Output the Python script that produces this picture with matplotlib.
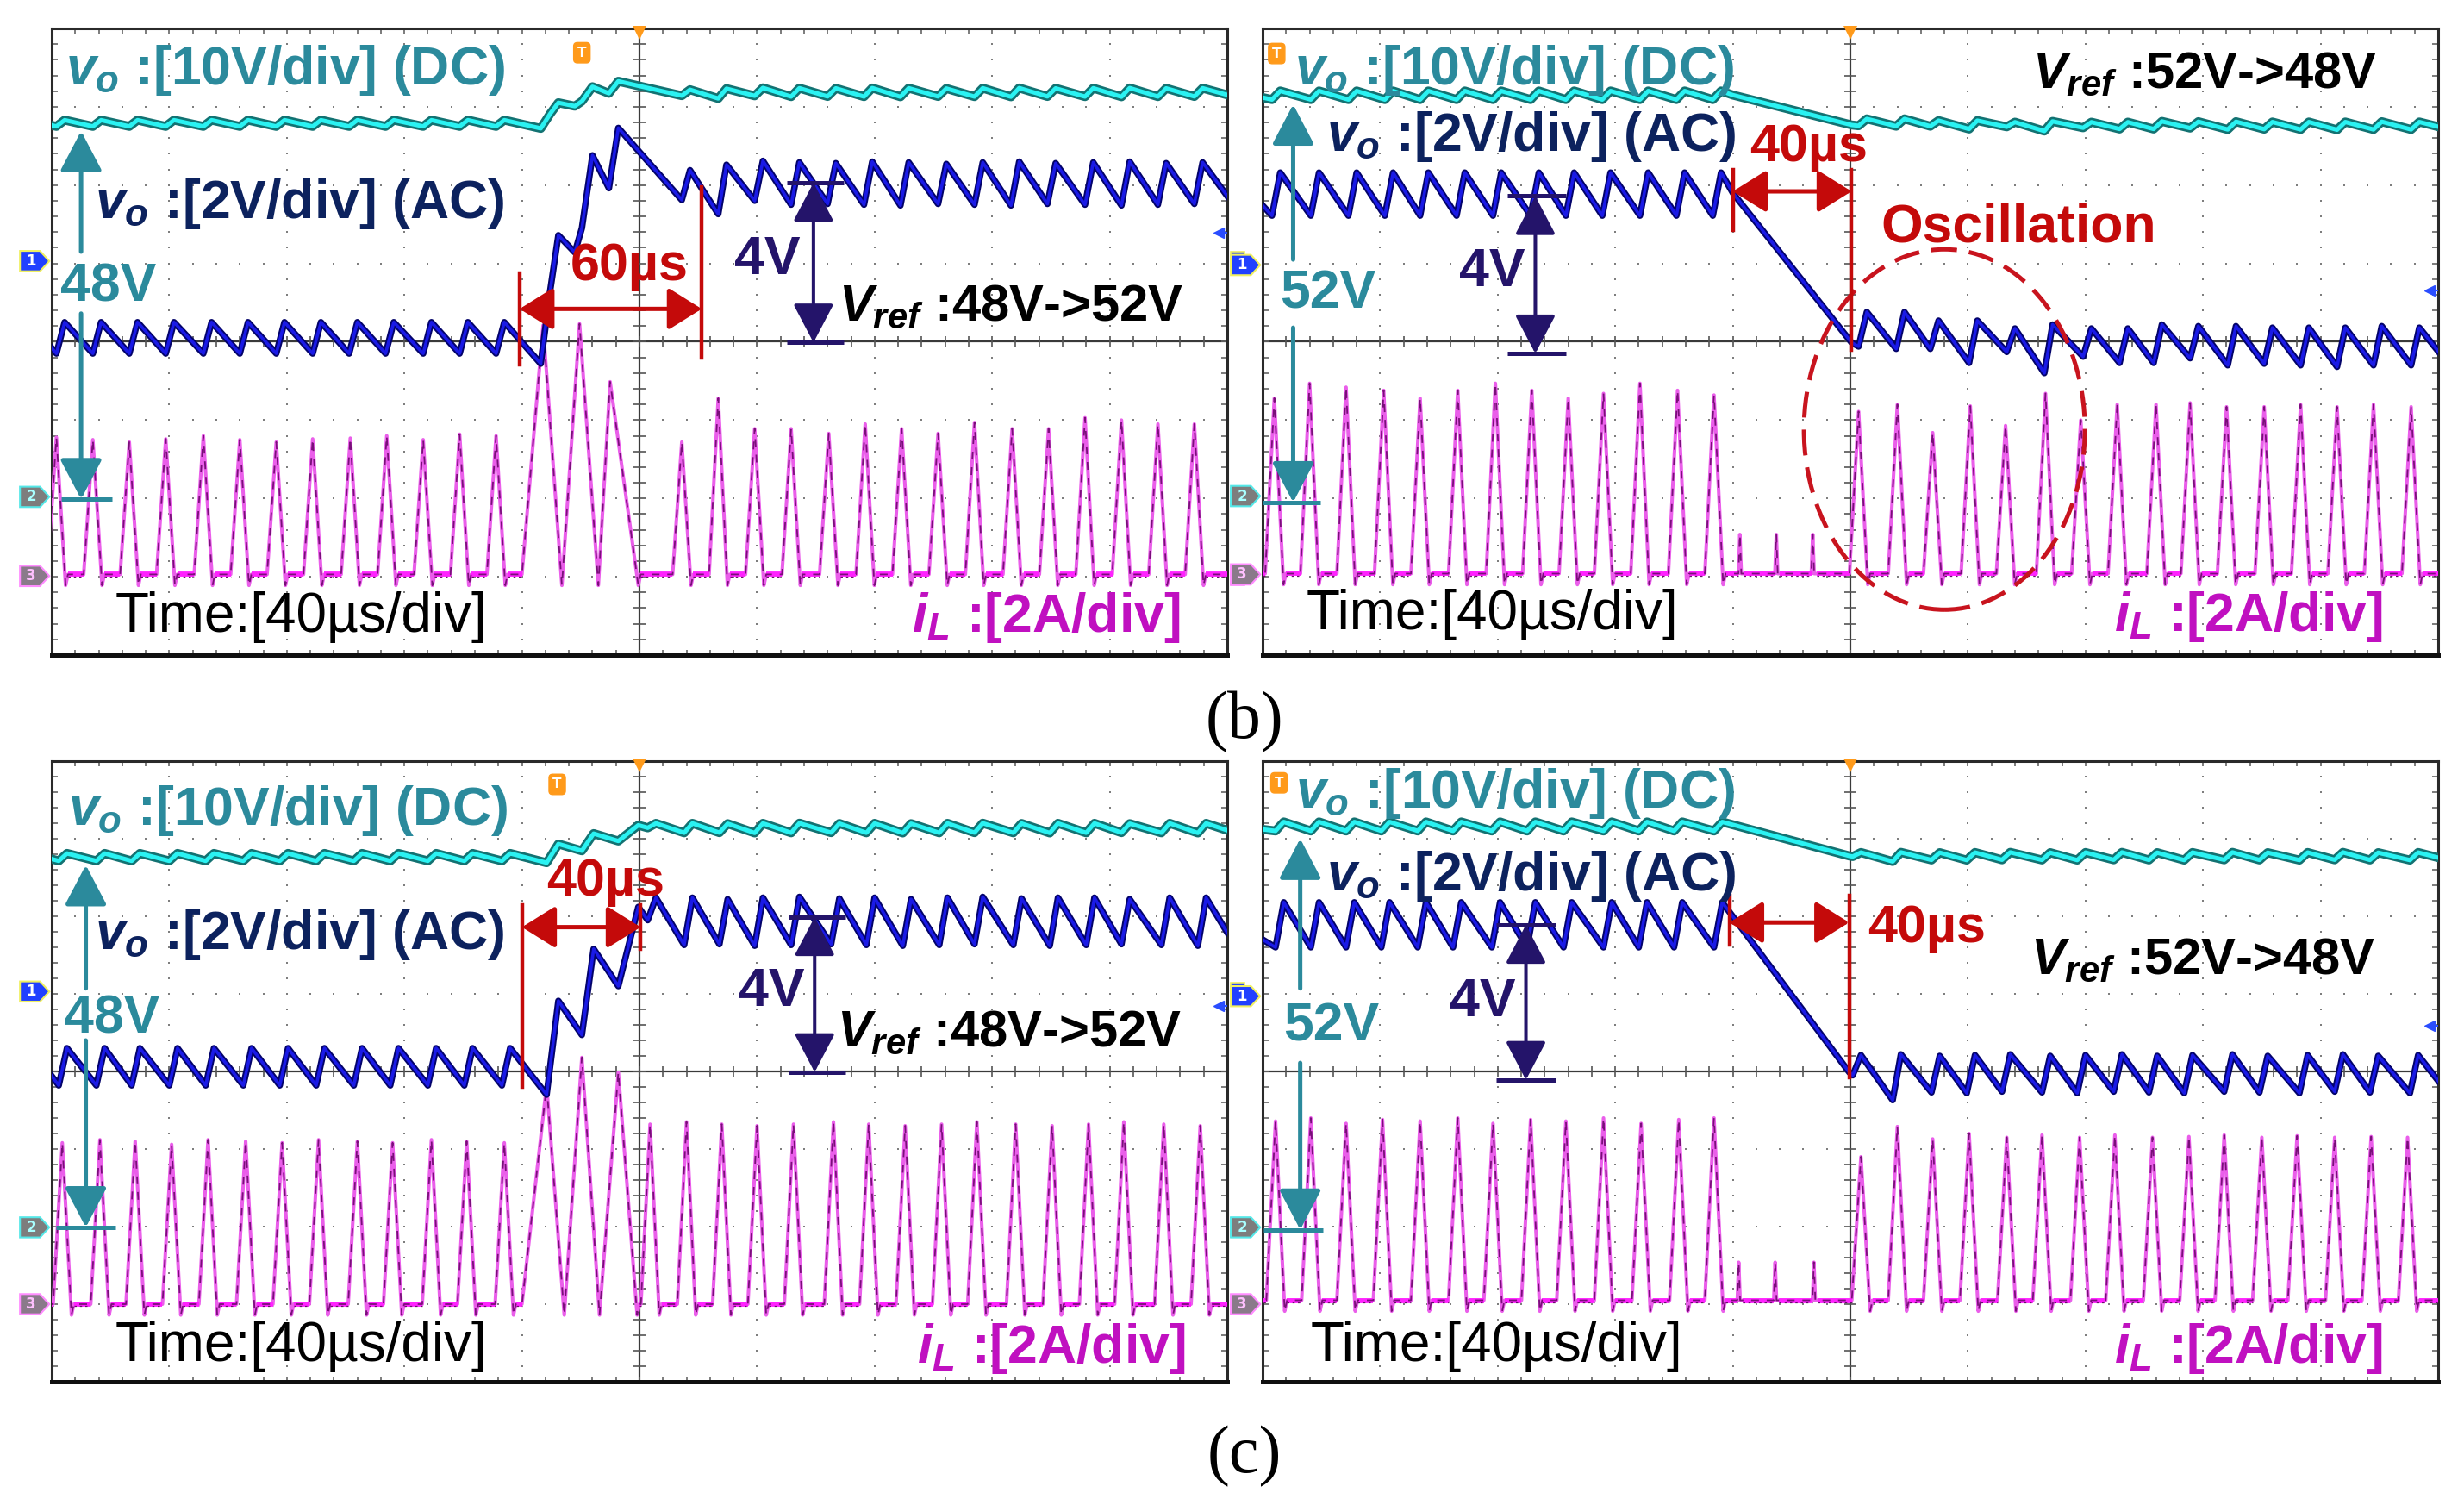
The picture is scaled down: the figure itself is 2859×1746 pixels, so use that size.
import numpy as np
import matplotlib
matplotlib.use('Agg')
import matplotlib.pyplot as plt
from matplotlib.patches import Polygon, Ellipse, FancyArrowPatch, ArrowStyle

# ======================= DATA (in divisions) =======================
# ---- (b) left : vref 48V -> 52V ----
b1_il_base = 1.03
b1_il_pre_t = [0.04, 0.35, 0.66, 0.97, 1.29, 1.60, 1.91, 2.22, 2.54, 2.85, 3.16, 3.47, 3.78]
b1_il_pre_h = [2.78, 2.75, 2.72, 2.76, 2.80, 2.75, 2.72, 2.76, 2.77, 2.80, 2.75, 2.82, 2.80]
b1_il_tr_s = [4.00, 4.34, 4.65]
b1_il_tr_p = [4.18, 4.49, 4.75]
b1_il_tr_e = [4.34, 4.65, 4.99]
b1_il_tr_h = [4.21, 4.23, 3.49]
b1_il_spk_t = []
b1_il_post_t = [5.36, 5.67, 5.98, 6.29, 6.61, 6.92, 7.23, 7.54, 7.85, 8.17, 8.48, 8.79, 9.10, 9.41, 9.72]
b1_il_post_h = [2.72, 3.28, 2.89, 2.89, 2.83, 2.95, 2.89, 2.83, 2.97, 2.89, 2.89, 3.03, 3.00, 2.95, 2.95]
b1_vo_start, b1_vo_end = 3.92, 5.86
b1_vo_pre_t = [0.11, 0.42, 0.73, 1.04, 1.36, 1.67, 1.98, 2.29, 2.60, 2.91, 3.23, 3.54, 3.85]
b1_vo_pre_hi, b1_vo_pre_lo = 4.25, 3.85
b1_vo_mid_x = [4.16, 4.24, 4.31, 4.45, 4.51, 4.60, 4.74, 4.82]
b1_vo_mid_y = [3.72, 4.65, 5.36, 5.14, 5.45, 6.38, 5.96, 6.73]
b1_vo_post_t = [5.43, 5.74, 6.05, 6.36, 6.67, 6.98, 7.29, 7.61, 7.92, 8.23, 8.54, 8.86, 9.17, 9.48, 9.79]
b1_vo_post_hi = [6.19, 6.26, 6.31, 6.29, 6.28, 6.30, 6.29, 6.27, 6.29, 6.30, 6.28, 6.29, 6.30, 6.28, 6.29]
b1_vo_post_lo = [5.81, 5.63, 5.80, 5.75, 5.76, 5.75, 5.74, 5.76, 5.75, 5.74, 5.76, 5.75, 5.74, 5.75, 5.76]
b1_dc_offset = 5.98

# ---- (b) right : vref 52V -> 48V ----
b2_il_base = 1.04
b2_il_pre_t = [0.10, 0.40, 0.71, 1.03, 1.34, 1.66, 1.98, 2.29, 2.60, 2.90, 3.21, 3.53, 3.84]
b2_il_pre_h = [3.28, 3.47, 3.42, 3.38, 3.28, 3.38, 3.47, 3.38, 3.28, 3.34, 3.47, 3.38, 3.32]
b2_il_tr_s, b2_il_tr_p, b2_il_tr_e, b2_il_tr_h = [], [], [], []
b2_il_spk_t = [4.06, 4.37, 4.68]
b2_il_spk_h = 1.54
b2_il_post_t = [5.07, 5.40, 5.70, 6.02, 6.32, 6.66, 6.96, 7.27, 7.60, 7.89, 8.20, 8.52, 8.83, 9.14, 9.45, 9.77]
b2_il_post_h = [3.11, 3.20, 2.84, 3.18, 2.93, 3.34, 3.00, 3.20, 3.20, 3.22, 3.17, 3.17, 3.20, 3.17, 3.20, 3.17]
b2_vo_start, b2_vo_end = 5.74, 3.88
b2_vo_pre_t = [0.15, 0.48, 0.80, 1.11, 1.41, 1.72, 2.03, 2.35, 2.65, 2.96, 3.28, 3.59, 3.90]
b2_vo_pre_hi, b2_vo_pre_lo = 6.16, 5.61
b2_vo_mid_x = [4.00, 5.01]
b2_vo_mid_y = [5.90, 3.99]
b2_vo_post_t = [5.14, 5.46, 5.75, 6.08, 6.40, 6.72, 7.05, 7.36, 7.65, 7.96, 8.28, 8.59, 8.90, 9.21, 9.52, 9.84]
b2_vo_post_hi = [4.38, 4.38, 4.27, 4.27, 4.17, 4.22, 4.17, 4.17, 4.22, 4.20, 4.20, 4.18, 4.18, 4.18, 4.20, 4.18]
b2_vo_post_lo = [3.94, 3.91, 3.91, 3.73, 3.87, 3.60, 3.81, 3.73, 3.73, 3.79, 3.70, 3.72, 3.70, 3.68, 3.70, 3.70]
b2_dc_offset = 5.97

# ---- (c) left : vref 48V -> 52V ----
c1_il_base = 1.00
c1_il_pre_t = [0.09, 0.41, 0.71, 1.02, 1.33, 1.65, 1.96, 2.27, 2.60, 2.90, 3.23, 3.53, 3.85]
c1_il_pre_h = [3.08, 3.12, 3.10, 3.06, 3.12, 3.10, 3.08, 3.12, 3.10, 3.08, 3.12, 3.10, 3.08]
c1_il_tr_s = [4.00, 4.36, 4.66]
c1_il_tr_p = [4.21, 4.51, 4.82]
c1_il_tr_e = [4.36, 4.66, 4.98]
c1_il_tr_h = [3.82, 4.18, 3.99]
c1_il_spk_t = []
c1_il_post_t = [5.09, 5.40, 5.70, 6.00, 6.31, 6.65, 6.95, 7.26, 7.57, 7.87, 8.20, 8.51, 8.82, 9.12, 9.46, 9.77]
c1_il_post_h = [3.32, 3.35, 3.32, 3.30, 3.32, 3.35, 3.32, 3.30, 3.32, 3.35, 3.32, 3.30, 3.32, 3.35, 3.32, 3.30]
c1_vo_start, c1_vo_end = 3.94, 5.79
c1_vo_pre_t = [0.13, 0.45, 0.75, 1.07, 1.38, 1.70, 2.01, 2.32, 2.64, 2.95, 3.27, 3.58, 3.90]
c1_vo_pre_hi, c1_vo_pre_lo = 4.30, 3.82
c1_vo_mid_x = [4.21, 4.31, 4.51, 4.61, 4.82, 4.99]
c1_vo_mid_y = [3.70, 4.91, 4.47, 5.58, 5.10, 6.12]
c1_vo_post_t = [5.14, 5.45, 5.75, 6.05, 6.36, 6.70, 7.00, 7.31, 7.62, 7.92, 8.25, 8.56, 8.87, 9.17, 9.51, 9.82]
c1_vo_post_hi = [6.24, 6.24, 6.22, 6.24, 6.25, 6.23, 6.24, 6.22, 6.24, 6.25, 6.23, 6.24, 6.24, 6.22, 6.24, 6.24]
c1_vo_post_lo = [5.95, 5.63, 5.64, 5.62, 5.63, 5.64, 5.63, 5.62, 5.63, 5.64, 5.63, 5.62, 5.63, 5.64, 5.63, 5.62]
c1_dc_offset = 5.95

# ---- (c) right : vref 52V -> 48V ----
c2_il_base = 1.05
c2_il_pre_t = [0.11, 0.41, 0.71, 1.02, 1.34, 1.66, 1.96, 2.28, 2.58, 2.90, 3.22, 3.54, 3.84]
c2_il_pre_h = [3.36, 3.40, 3.33, 3.38, 3.36, 3.40, 3.33, 3.38, 3.36, 3.40, 3.33, 3.38, 3.40]
c2_il_tr_s, c2_il_tr_p, c2_il_tr_e, c2_il_tr_h = [], [], [], []
c2_il_spk_t = [4.05, 4.36, 4.69]
c2_il_spk_h = 1.54
c2_il_post_t = [5.09, 5.40, 5.70, 6.01, 6.33, 6.63, 6.95, 7.25, 7.57, 7.88, 8.18, 8.50, 8.80, 9.12, 9.43, 9.74]
c2_il_post_h = [2.90, 3.29, 3.13, 3.20, 3.15, 3.18, 3.15, 3.18, 3.15, 3.16, 3.18, 3.15, 3.17, 3.15, 3.16, 3.15]
c2_vo_start, c2_vo_end = 5.70, 3.88
c2_vo_pre_t = [0.18, 0.48, 0.78, 1.08, 1.39, 1.69, 2.02, 2.32, 2.63, 2.97, 3.27, 3.57, 3.91]
c2_vo_pre_hi, c2_vo_pre_lo = 6.18, 5.60
c2_vo_mid_x = [4.99]
c2_vo_mid_y = [3.99]
c2_vo_post_t = [5.09, 5.43, 5.76, 6.06, 6.36, 6.70, 7.00, 7.31, 7.61, 7.91, 8.25, 8.55, 8.89, 9.19, 9.49, 9.83]
c2_vo_post_hi = [4.21, 4.22, 4.20, 4.21, 4.22, 4.20, 4.21, 4.22, 4.20, 4.21, 4.22, 4.20, 4.21, 4.22, 4.20, 4.21]
c2_vo_post_lo = [3.95, 3.63, 3.73, 3.72, 3.74, 3.73, 3.72, 3.74, 3.73, 3.72, 3.74, 3.73, 3.72, 3.74, 3.73, 3.72]
c2_dc_offset = 5.98

# labels
lbl_dc = r'$v_o$ :[10V/div] (DC)'
lbl_ac = r'$v_o$ :[2V/div] (AC)'
lbl_il = r'$i_L$ :[2A/div]'
lbl_time = 'Time:[40µs/div]'
lbl_vref_up = r'$V_{ref}$ :48V->52V'
lbl_vref_dn = r'$V_{ref}$ :52V->48V'
lbl_dv = '4V'
lbl_b, lbl_c = '(b)', '(c)'

# ======================= STYLE =======================
W, H, DPI = 2859, 1746, 100
plt.rcParams['mathtext.fontset'] = 'custom'
plt.rcParams['mathtext.it'] = 'Liberation Sans:bold:italic'
plt.rcParams['mathtext.rm'] = 'Liberation Sans:bold'
plt.rcParams['mathtext.bf'] = 'Liberation Sans:bold'

RISE = 0.07     # vo rise segment width (div)
PW = 0.078      # iL half pulse width (div)
SW = 0.012
DIP = 0.14

TEAL_TXT = '#2b8a9c'
NAVY_TXT = '#0c225e'
NAVY_ARR = '#24146a'
RED = '#c40a0a'
MAG_TXT = '#c010c0'
CYAN, CYAN_EDGE = '#2af2f2', '#137272'
BLUE, BLUE_EDGE = '#1a1ae6', '#03036a'
MAG, MAG_DASH = '#ea5eea', '#7a0f7a'
ORANGE = '#ff9a1a'
FONT = 'Liberation Sans'


def as_list(v, n):
    return list(v) if np.ndim(v) else [v] * n


def build_vo(start, pre_t, pre_hi, pre_lo, mid_x, mid_y, post_t, post_hi, post_lo, end):
    xs, ys = [0.0], [start]
    n = len(pre_t)
    for t, h, l in zip(pre_t, as_list(pre_hi, n), as_list(pre_lo, n)):
        xs += [t - RISE, t]; ys += [l, h]
    xs += list(mid_x); ys += list(mid_y)
    n = len(post_t)
    for t, h, l in zip(post_t, as_list(post_hi, n), as_list(post_lo, n)):
        xs += [t - RISE, t]; ys += [l, h]
    xs.append(10.0); ys.append(end)
    return np.array(xs), np.array(ys)


def build_il(base, pre_t, pre_h, tr_s, tr_p, tr_e, tr_h, spk_t, spk_h, post_t, post_h):
    ev = [(t - PW, t, t + PW, h, DIP) for t, h in zip(pre_t, pre_h)]
    ev += [(s, p, e, h, DIP) for s, p, e, h in zip(tr_s, tr_p, tr_e, tr_h)]
    ev += [(t - SW, t, t + SW, spk_h, 0.0) for t in spk_t]
    ev += [(t - PW, t, t + PW, h, DIP) for t, h in zip(post_t, post_h)]
    ev.sort()
    xs, ys = [-0.5], [base]
    flats = []
    for i, (s, p, e, h, d) in enumerate(ev):
        if s > xs[-1] + 1e-6:
            flats.append((xs[-1], s))
            xs.append(s); ys.append(base)
        xs += [p, e]; ys += [h, base - d]
        nxt = ev[i + 1][0] if i + 1 < len(ev) else 99
        if nxt > e + 0.03:
            xs.append(e + 0.02); ys.append(base)
    flats.append((xs[-1], 10.5))
    xs.append(10.5); ys.append(base)
    return np.array(xs), np.array(ys), flats


fig = plt.figure(figsize=(W / DPI, H / DPI), dpi=DPI)
fig.patch.set_facecolor('white')


def make_ax(px_left, px_top, px_w, px_h):
    ax = fig.add_axes([px_left / W, 1 - (px_top + px_h) / H, px_w / W, px_h / H])
    ax.set_xlim(0, 10)
    ax.set_ylim(0, 8)
    ax.set_xticks([]); ax.set_yticks([])
    for sp in ax.spines.values():
        sp.set_color('#2a2a2a'); sp.set_linewidth(2.2)
    ax.spines['bottom'].set_linewidth(3.6)
    ax.spines['bottom'].set_color('#101010')
    dy = np.arange(0, 8.001, 0.2)
    dx = np.arange(0, 10.001, 0.2)
    for gx in range(1, 10):
        if gx != 5:
            ax.plot([gx] * len(dy), dy, ls='none', marker='s', ms=2.1, mew=0, color='#7e7e7e', zorder=1)
    for gy in range(1, 8):
        if gy != 4:
            ax.plot(dx, [gy] * len(dx), ls='none', marker='s', ms=2.1, mew=0, color='#7e7e7e', zorder=1)
    ax.plot([5, 5], [0, 8], color='#3a3a3a', lw=1.6, zorder=1.5)
    ax.plot([0, 10], [4, 4], color='#3a3a3a', lw=1.6, zorder=1.5)
    ax.vlines(dx, 3.93, 4.07, color='#555555', lw=1.2, zorder=1.5)
    ax.hlines(dy, 4.95, 5.05, color='#555555', lw=1.2, zorder=1.5)
    ax.vlines(dx, 0, 0.07, color='#666666', lw=1.2, zorder=1.5)
    ax.vlines(dx, 7.93, 8, color='#666666', lw=1.2, zorder=1.5)
    ax.hlines(dy, 0, 0.05, color='#666666', lw=1.2, zorder=1.5)
    ax.hlines(dy, 9.95, 10, color='#666666', lw=1.2, zorder=1.5)
    return ax


def darrow(ax, p0, p1, color, lw, ms, style='<|-|>', hw=0.21):
    st = ArrowStyle(style, head_length=0.4, head_width=hw)
    ax.add_patch(FancyArrowPatch(p0, p1, arrowstyle=st, mutation_scale=ms, lw=lw,
                                 color=color, shrinkA=0, shrinkB=0, zorder=7))


def ch_marker(ax, y, num, fc, ec, tc, x0=-0.27, x1=-0.02):
    pts = [(x0, y - 0.13), (x1 - 0.08, y - 0.13), (x1, y), (x1 - 0.08, y + 0.13), (x0, y + 0.13)]
    ax.add_patch(Polygon(pts, closed=True, fc=fc, ec=ec, lw=1.5, clip_on=False, zorder=9))
    ax.text((x0 + x1 - 0.06) / 2, y, num, ha='center', va='center', fontsize=12, color=tc,
            fontweight='bold', clip_on=False, zorder=10)


def txt(ax, x, y, s, color, size, family=FONT, weight='bold', style='normal'):
    ax.text(x, y, s, color=color, fontsize=size, family=family, fontweight=weight, fontstyle=style,
            ha='left', va='baseline', zorder=8)


def draw_traces(ax, il, vo, off):
    ix, iy, flats = il
    base = iy[0]
    ax.plot(ix, iy, color=MAG, lw=2.9, zorder=3)
    ax.plot(ix, iy, color=MAG_DASH, lw=1.3, dashes=(5, 5), zorder=3.2)
    for f0, f1 in flats:
        ax.plot([f0, f1], [base, base], color='#ff22ff', lw=4.2, zorder=3.1, solid_capstyle='butt')
        ax.plot([f0, f1], [base - 0.025, base - 0.025], color='#6a106a', lw=0.9, dashes=(2, 3), zorder=3.3)
    vx, vy = vo
    cy = off + vy / 5.0
    ax.plot(vx, cy, color=CYAN_EDGE, lw=7.5, zorder=4)
    ax.plot(vx, cy, color=CYAN, lw=3.6, zorder=4.1)
    ax.plot(vx, vy, color=BLUE_EDGE, lw=5.4, zorder=5)
    ax.plot(vx, vy, color=BLUE, lw=2.6, zorder=5.1)


def common_deco(ax, m1, m2, m3, arr_y, left_panel):
    ch_marker(ax, m1, '1', '#2040ff', '#f0f060', '#ffffff')
    ch_marker(ax, m2, '2', '#7d7d7d', '#55e8e8', '#a8ffff')
    ch_marker(ax, m3, '3', '#8a7a8a', '#ff8cff', '#ffc0ff')
    if left_panel:
        for y, fc, ec in [(m1, '#2040ff', '#f0f060'), (m2, '#7d7d7d', '#55e8e8'), (m3, '#8a7a8a', '#ff8cff')]:
            ax.add_patch(Polygon([(10.03, y - 0.12), (10.15, y - 0.12), (10.15, y + 0.12), (10.03, y + 0.12)],
                                 closed=True, fc=fc, ec=ec, lw=1.2, clip_on=False, zorder=9))
    ax.plot([9.93], [arr_y], marker='<', ms=8, color='#2a4dff', zorder=6)
    ax.plot([9.93, 10.0], [arr_y, arr_y], color='#2a4dff', lw=1.5, zorder=6)
    ax.plot([5.0], [7.94], marker='v', ms=11, color=ORANGE, mew=0, clip_on=False, zorder=9)


def t_marker(ax, x, y):
    ax.text(x, y, 'T', color='white', fontsize=11, fontweight='bold', ha='center', va='center',
            bbox=dict(boxstyle='round,pad=0.28', fc=ORANGE, ec=ORANGE), zorder=9)


def teal_arrow(ax, x, top, gap_top, gap_bot, bot, bar0, bar1):
    darrow(ax, (x, gap_top), (x, top), TEAL_TXT, 3.6, 72, style='-|>')
    darrow(ax, (x, gap_bot), (x, bot), TEAL_TXT, 3.6, 72, style='-|>')
    ax.plot([bar0, bar1], [bot, bot], color=TEAL_TXT, lw=3.6, zorder=7, solid_capstyle='butt')


def navy_arrow(ax, x, y0, y1, b0, b1):
    darrow(ax, (x, y0), (x, y1), NAVY_ARR, 2.9, 70)
    ax.plot([b0, b1], [y0, y0], color=NAVY_ARR, lw=3.6, zorder=7, solid_capstyle='butt')
    ax.plot([b0, b1], [y1, y1], color=NAVY_ARR, lw=3.6, zorder=7, solid_capstyle='butt')


def red_span(ax, y, x0, x1, l0, l1):
    darrow(ax, (x0, y), (x1, y), RED, 3.6, 60, hw=0.25)
    ax.plot([x0, x0], l0, color=RED, lw=3.2, zorder=7)
    ax.plot([x1, x1], l1, color=RED, lw=3.2, zorder=7)


SZ_LBL = 45
SZ_VREF = 43
SZ_US = 44
SZ_BIG = 45
SZ_TIME = 46

# ---------------- panel (b) left ----------------
ax = make_ax(60, 33, 1364, 727)
draw_traces(ax,
            build_il(b1_il_base, b1_il_pre_t, b1_il_pre_h, b1_il_tr_s, b1_il_tr_p, b1_il_tr_e, b1_il_tr_h,
                     b1_il_spk_t, 0, b1_il_post_t, b1_il_post_h),
            build_vo(b1_vo_start, b1_vo_pre_t, b1_vo_pre_hi, b1_vo_pre_lo, b1_vo_mid_x, b1_vo_mid_y,
                     b1_vo_post_t, b1_vo_post_hi, b1_vo_post_lo, b1_vo_end),
            b1_dc_offset)
common_deco(ax, 5.03, 2.02, 1.01, 5.39, True)
t_marker(ax, 4.51, 7.69)
txt(ax, 0.12, 7.28, lbl_dc, TEAL_TXT, SZ_LBL)
txt(ax, 0.37, 5.58, lbl_ac, NAVY_TXT, SZ_LBL)
txt(ax, 0.07, 4.52, '48V', TEAL_TXT, SZ_BIG)
teal_arrow(ax, 0.25, 6.69, 5.15, 4.36, 1.99, 0.08, 0.51)
txt(ax, 4.41, 4.79, '60µs', RED, SZ_US)
red_span(ax, 4.42, 3.98, 5.53, [3.71, 4.87], [3.80, 5.98])
txt(ax, 5.81, 4.86, lbl_dv, NAVY_ARR, SZ_BIG)
navy_arrow(ax, 6.48, 3.99, 6.03, 6.25, 6.74)
txt(ax, 6.69, 4.27, lbl_vref_up, 'black', SZ_VREF)
txt(ax, 0.54, 0.30, lbl_time, 'black', SZ_TIME, weight='normal')
txt(ax, 7.32, 0.30, lbl_il, MAG_TXT, SZ_LBL)

# ---------------- panel (b) right ----------------
ax = make_ax(1465, 33, 1364, 727)
draw_traces(ax,
            build_il(b2_il_base, b2_il_pre_t, b2_il_pre_h, b2_il_tr_s, b2_il_tr_p, b2_il_tr_e, b2_il_tr_h,
                     b2_il_spk_t, b2_il_spk_h, b2_il_post_t, b2_il_post_h),
            build_vo(b2_vo_start, b2_vo_pre_t, b2_vo_pre_hi, b2_vo_pre_lo, b2_vo_mid_x, b2_vo_mid_y,
                     b2_vo_post_t, b2_vo_post_hi, b2_vo_post_lo, b2_vo_end),
            b2_dc_offset)
common_deco(ax, 4.98, 2.03, 1.03, 4.65, False)
t_marker(ax, 0.12, 7.68)
txt(ax, 0.27, 7.29, lbl_dc, TEAL_TXT, SZ_LBL)
txt(ax, 0.54, 6.44, lbl_ac, NAVY_TXT, SZ_LBL)
txt(ax, 0.15, 4.43, '52V', TEAL_TXT, SZ_BIG)
teal_arrow(ax, 0.26, 7.03, 5.05, 4.18, 1.95, 0.0, 0.49)
txt(ax, 4.14, 6.31, '40µs', RED, SZ_US)
red_span(ax, 5.92, 4.00, 5.01, [5.43, 6.20], [3.89, 6.20])
txt(ax, 5.26, 5.28, 'Oscillation', RED, SZ_BIG)
ax.add_patch(Ellipse((5.80, 2.88), 2.39, 4.60, fill=False, ec='#c8141e', lw=3.6,
                     ls=(0, (6, 2.8)), zorder=6))
txt(ax, 1.67, 4.71, lbl_dv, NAVY_ARR, SZ_BIG)
navy_arrow(ax, 2.32, 3.85, 5.86, 2.08, 2.58)
txt(ax, 6.55, 7.24, lbl_vref_dn, 'black', SZ_VREF)
txt(ax, 0.37, 0.33, lbl_time, 'black', SZ_TIME, weight='normal')
txt(ax, 7.24, 0.31, lbl_il, MAG_TXT, SZ_LBL)

# ---------------- panel (c) left ----------------
ax = make_ax(60, 883, 1364, 720)
draw_traces(ax,
            build_il(c1_il_base, c1_il_pre_t, c1_il_pre_h, c1_il_tr_s, c1_il_tr_p, c1_il_tr_e, c1_il_tr_h,
                     c1_il_spk_t, 0, c1_il_post_t, c1_il_post_h),
            build_vo(c1_vo_start, c1_vo_pre_t, c1_vo_pre_hi, c1_vo_pre_lo, c1_vo_mid_x, c1_vo_mid_y,
                     c1_vo_post_t, c1_vo_post_hi, c1_vo_post_lo, c1_vo_end),
            c1_dc_offset)
common_deco(ax, 5.03, 1.99, 1.00, 4.84, True)
t_marker(ax, 4.30, 7.70)
txt(ax, 0.14, 7.18, lbl_dc, TEAL_TXT, SZ_LBL)
txt(ax, 0.37, 5.58, lbl_ac, NAVY_TXT, SZ_LBL)
txt(ax, 0.10, 4.49, '48V', TEAL_TXT, SZ_BIG)
teal_arrow(ax, 0.29, 6.66, 5.07, 4.40, 1.99, 0.04, 0.54)
txt(ax, 4.21, 6.27, '40µs', RED, SZ_US)
red_span(ax, 5.86, 4.00, 5.01, [3.80, 6.14], [5.58, 6.14])
txt(ax, 5.84, 4.84, lbl_dv, NAVY_ARR, SZ_BIG)
navy_arrow(ax, 6.49, 3.99, 5.99, 6.27, 6.75)
txt(ax, 6.68, 4.33, lbl_vref_up, 'black', SZ_VREF)
txt(ax, 0.54, 0.27, lbl_time, 'black', SZ_TIME, weight='normal')
txt(ax, 7.36, 0.24, lbl_il, MAG_TXT, SZ_LBL)

# ---------------- panel (c) right ----------------
ax = make_ax(1465, 883, 1364, 720)
draw_traces(ax,
            build_il(c2_il_base, c2_il_pre_t, c2_il_pre_h, c2_il_tr_s, c2_il_tr_p, c2_il_tr_e, c2_il_tr_h,
                     c2_il_spk_t, c2_il_spk_h, c2_il_post_t, c2_il_post_h),
            build_vo(c2_vo_start, c2_vo_pre_t, c2_vo_pre_hi, c2_vo_pre_lo, c2_vo_mid_x, c2_vo_mid_y,
                     c2_vo_post_t, c2_vo_post_hi, c2_vo_post_lo, c2_vo_end),
            c2_dc_offset)
common_deco(ax, 4.97, 1.99, 1.00, 4.59, False)
t_marker(ax, 0.14, 7.72)
txt(ax, 0.28, 7.40, lbl_dc, TEAL_TXT, SZ_LBL)
txt(ax, 0.54, 6.33, lbl_ac, NAVY_TXT, SZ_LBL)
txt(ax, 0.18, 4.40, '52V', TEAL_TXT, SZ_BIG)
teal_arrow(ax, 0.32, 7.00, 5.07, 4.11, 1.96, 0.01, 0.51)
txt(ax, 5.15, 5.67, '40µs', RED, SZ_US)
red_span(ax, 5.92, 3.97, 4.99, [5.63, 6.27], [3.92, 6.27])
txt(ax, 1.59, 4.71, lbl_dv, NAVY_ARR, SZ_BIG)
navy_arrow(ax, 2.24, 3.89, 5.89, 1.99, 2.49)
txt(ax, 6.53, 5.26, lbl_vref_dn, 'black', SZ_VREF)
txt(ax, 0.41, 0.27, lbl_time, 'black', SZ_TIME, weight='normal')
txt(ax, 7.24, 0.24, lbl_il, MAG_TXT, SZ_LBL)

# ---------------- sub-figure labels ----------------
fig.text(1444 / W, 1 - 838 / H, lbl_b, ha='center', va='center', family='Liberation Serif', fontsize=56)
fig.text(1444 / W, 1 - 1690 / H, lbl_c, ha='center', va='center', family='Liberation Serif', fontsize=56)

fig.savefig('out.png', dpi=DPI, facecolor='white')
